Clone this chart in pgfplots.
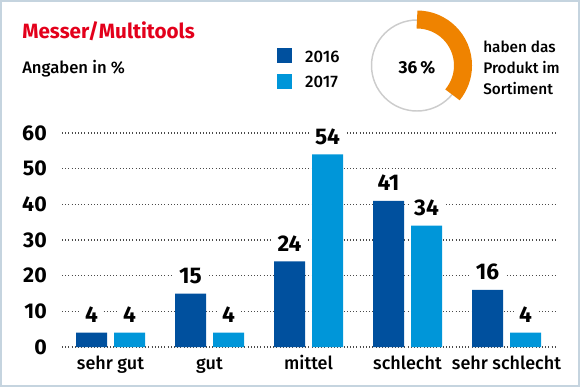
\documentclass[border=0pt]{standalone}
\usepackage{pgfplots}
\pgfplotsset{compat=1.18}
\usepackage{fontspec}
\setmainfont{Fira Sans}
\newfontfamily\med{Fira Sans Medium}
\definecolor{dblue}{HTML}{00509E}
\definecolor{lblue}{HTML}{0096D9}
\definecolor{korange}{HTML}{EF8300}
\definecolor{kred}{HTML}{E3001B}
\definecolor{kframe}{HTML}{C5D4DF}
\definecolor{gridc}{HTML}{4A4A4A}
\begin{document}
\begin{tikzpicture}
\begin{scope}[x=0.75pt,y=0.75pt]
\path[use as bounding box] (0,0) rectangle (580,387);
\draw[kframe, line width=1.5pt] (1,1) rectangle (579,386);
\node[anchor=base west, inner sep=0pt, text=kred, font=\bfseries\fontsize{15.5}{18}\selectfont] at (22,349) {Messer/Multitools};
\node[anchor=base west, inner sep=0pt, font=\med\fontsize{12.5}{14}\selectfont] at (22,314) {Angaben in \%};
% donut
\draw[black!20, line width=1.1pt] (417,321.5) circle (34.125pt);
\draw[korange, line width=13.5pt] (417,321.5) ++(90:34.5pt) arc[start angle=90, end angle=-39.6, radius=34.5pt];
\node[font=\bfseries\fontsize{13}{15}\selectfont, inner sep=0pt, anchor=base] at (417,314) {36\,\%};
\node[anchor=base west, inner sep=0pt, font=\med\fontsize{11.5}{14}\selectfont] at (483,335) {haben das};
\node[anchor=base west, inner sep=0pt, font=\med\fontsize{11.5}{14}\selectfont] at (483,314) {Produkt im};
\node[anchor=base west, inner sep=0pt, font=\med\fontsize{11.5}{14}\selectfont] at (483,293) {Sortiment};
\end{scope}
\begin{axis}[
  at={(46.5pt,30pt)}, anchor=south west,
  scale only axis, width=371.25pt, height=160.5pt,
  xmin=-0.49, xmax=4.51, ymin=0, ymax=60,
  ybar=5.25pt, bar width=23.25pt,
  axis line style={draw=none},
  major tick length=0pt,
  xtick={0,1,2,3,4},
  xticklabels={sehr gut,gut,mittel,schlecht,sehr schlecht},
  ytick={0,10,20,30,40,50,60},
  /pgf/number format/assume math mode=true,
  ymajorgrids,
  grid style={gridc, line width=0.8pt, dash pattern=on 0.8pt off 1.6pt},
  yticklabel style={font=\bfseries\fontsize{16}{18}\selectfont, inner sep=0pt, anchor=east, xshift=-11.25pt},
  xticklabel style={font=\med\fontsize{13.5}{15}\selectfont, inner sep=0pt, anchor=base, yshift=-16.5pt},
  nodes near coords,
  every node near coord/.append style={font=\bfseries\fontsize{17}{19}\selectfont, anchor=base, yshift=7.5pt, fill=white, inner xsep=4pt, inner ysep=2pt, text=black},
  legend style={at={(0.4343,1.397)}, anchor=north west, draw=none, fill=none, inner sep=0pt, row sep=7.2pt,
    font=\med\fontsize{12.5}{14}\selectfont, nodes={inner sep=0pt},
    /tikz/every odd column/.append style={column sep=9.75pt}},
  legend cell align=left,
  legend image code/.code={\fill[#1] (0pt,-4.5pt) rectangle (11.25pt,6.75pt);},
]
\addplot[fill=dblue, draw=none] coordinates {(0,4) (1,15) (2,24) (3,41) (4,16)};
\addplot[fill=lblue, draw=none] coordinates {(0,4) (1,4) (2,54) (3,34) (4,4)};
\legend{2016,2017}
\end{axis}
\end{tikzpicture}
\end{document}
